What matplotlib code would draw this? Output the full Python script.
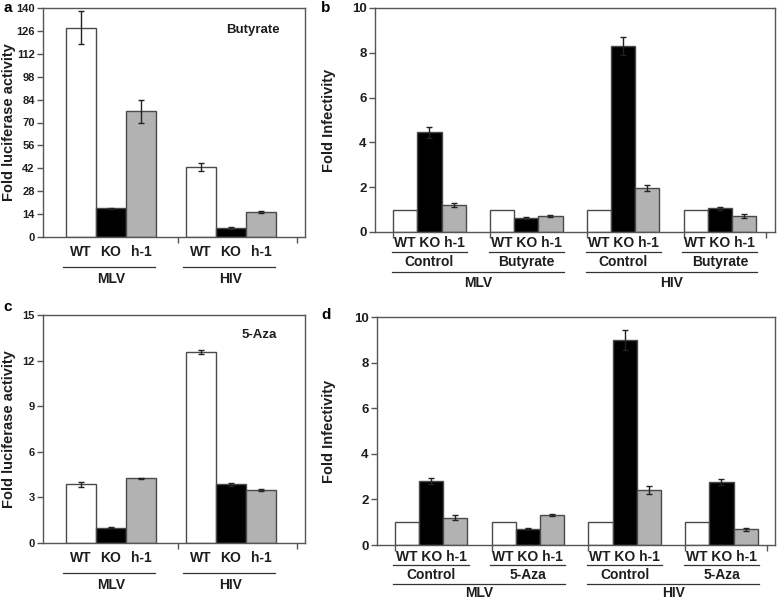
import matplotlib
matplotlib.use("Agg")
import matplotlib.pyplot as plt
import matplotlib.transforms as mtransforms
import numpy as np

plt.rcParams['font.family'] = ['Liberation Sans', 'DejaVu Sans']

# ---------------- data ----------------
strains = ["WT", "KO", "h-1"]
viruses = ["MLV", "HIV"]

# panel a: Butyrate, fold luciferase activity
a_vals = [[128, 17.5, 77], [43, 5.5, 15.5]]
a_err = [[10, 0.4, 7], [2.5, 0.4, 0.6]]
a_ticks = [0, 14, 28, 42, 56, 70, 84, 98, 112, 126, 140]

# panel c: 5-Aza, fold luciferase activity
c_vals = [[3.85, 1.0, 4.25], [12.55, 3.85, 3.5]]
c_err = [[0.15, 0.04, 0.05], [0.12, 0.1, 0.05]]
c_ticks = [0, 3, 6, 9, 12, 15]

# panel b: fold infectivity, groups MLV-Control, MLV-Butyrate, HIV-Control, HIV-Butyrate
b_treat = ["Control", "Butyrate", "Control", "Butyrate"]
b_vals = [[1, 4.45, 1.2], [1, 0.62, 0.72], [1, 8.3, 1.97], [1, 1.05, 0.72]]
b_err = [[0, 0.25, 0.1], [0, 0.03, 0.03], [0, 0.4, 0.15], [0, 0.05, 0.1]]

# panel d
d_treat = ["Control", "5-Aza", "Control", "5-Aza"]
d_vals = [[1, 2.8, 1.2], [1, 0.72, 1.3], [1, 9.0, 2.4], [1, 2.75, 0.68]]
d_err = [[0, 0.12, 0.1], [0, 0.03, 0.04], [0, 0.45, 0.18], [0, 0.13, 0.07]]
inf_ticks = [0, 2, 4, 6, 8, 10]

bar_colors = ["white", "black", "#b2b2b2"]
edge = "#4a4a4a"
txt = "#1e1e1e"

W, H = 777, 601
fig = plt.figure(figsize=(W / 100, H / 100), dpi=100)


def add_axes(l, r, t, b):
    return fig.add_axes([l / W, 1 - b / H, (r - l) / W, (b - t) / H])


def yf(ax_top, ax_bot, ypx):
    return (ax_bot - ypx) / (ax_bot - ax_top)


def style(ax):
    for s in ax.spines.values():
        s.set_color("#555555")
        s.set_linewidth(1.0)
    ax.tick_params(axis='y', direction='out', length=4, width=1, color="#555555",
                   labelcolor=txt, pad=2)
    ax.tick_params(axis='x', direction='out', length=4, width=1, color="#555555",
                   labelbottom=False)


def draw_bars(ax, xs, vals, errs):
    for i in range(3):
        ax.bar(xs[i], vals[i], width=1.0, color=bar_colors[i], edgecolor=edge,
               linewidth=1.0, zorder=2)
        if errs[i] > 0:
            ax.errorbar(xs[i], vals[i], yerr=errs[i], fmt='none', ecolor="#222222",
                        elinewidth=1.0, capsize=2.5, capthick=1.0, zorder=3)


def luc_panel(ax, vals, errs, ticks, treat_label, tl_pos, top, bot):
    style(ax)
    centers = [2, 6]
    for g in range(2):
        xs = [centers[g] - 1, centers[g], centers[g] + 1]
        draw_bars(ax, xs, vals[g], errs[g])
    ax.set_xlim(-0.27, 8.47)
    ax.set_ylim(ticks[0], ticks[-1])
    ax.set_yticks(ticks)
    ax.set_yticklabels([str(t) for t in ticks], fontsize=8, fontweight='bold')
    ax.set_xticks([4.25, 8.2])
    ax.set_ylabel("Fold luciferase activity", fontsize=10.5, fontweight='bold',
                  color=txt)
    ax.yaxis.set_label_coords((16 - 43) / 262, 0.5)
    ax.text(tl_pos[0], tl_pos[1], treat_label, transform=ax.transAxes, ha='center',
            va='center', fontsize=9.5, fontweight='bold', color=txt)
    tr = mtransforms.blended_transform_factory(ax.transData, ax.transAxes)
    for g in range(2):
        for k in range(3):
            ax.text(centers[g] - 1 + k, yf(top, bot, bot + 15), strains[k],
                    transform=tr, ha='center', va='center', fontsize=10,
                    fontweight='bold', color=txt)
        ly = yf(top, bot, bot + 30)
        ax.plot([centers[g] - 1.6, centers[g] + 1.47], [ly, ly], transform=tr,
                color="#333333", lw=0.9, clip_on=False)
        ax.text(centers[g], yf(top, bot, bot + 42), viruses[g], transform=tr,
                ha='center', va='center', fontsize=10, fontweight='bold', color=txt)


def inf_panel(ax, vals, errs, treats, top, bot, xlim, offs, label_x):
    style(ax)
    starts = [0, 4, 8, 12]
    for g in range(4):
        xs = [starts[g], starts[g] + 1, starts[g] + 2]
        draw_bars(ax, xs, vals[g], errs[g])
    ax.set_xlim(*xlim)
    ax.set_ylim(0, 10)
    ax.set_yticks(inf_ticks)
    ax.set_yticklabels([str(t) for t in inf_ticks], fontsize=9.5, fontweight='bold')
    ax.set_xticks([-0.5, 3.5, 7.5, 11.5, 14.9])
    ax.set_ylabel("Fold Infectivity", fontsize=10.5, fontweight='bold', color=txt)
    ax.yaxis.set_label_coords(label_x, 0.5)
    tr = mtransforms.blended_transform_factory(ax.transData, ax.transAxes)
    for g in range(4):
        c = starts[g] + 1
        ax.text(c, yf(top, bot, bot + offs[0]), "WT KO h-1", transform=tr,
                ha='center', va='center', fontsize=10, fontweight='bold', color=txt)
        ly = yf(top, bot, bot + offs[1])
        ax.plot([c - 1.55, c + 1.55], [ly, ly], transform=tr, color="#333333",
                lw=0.9, clip_on=False)
        ax.text(c, yf(top, bot, bot + offs[2]), treats[g], transform=tr,
                ha='center', va='center', fontsize=10, fontweight='bold', color=txt)
    for v in range(2):
        s = starts[2 * v]
        ly = yf(top, bot, bot + offs[3])
        ax.plot([s - 0.55, s + 6.55], [ly, ly], transform=tr, color="#333333",
                lw=0.9, clip_on=False)
        ax.text(s + 3, yf(top, bot, bot + offs[4]), viruses[v], transform=tr,
                ha='center', va='center', fontsize=10, fontweight='bold', color=txt)


# panel a
axa = add_axes(43, 305, 8, 237)
luc_panel(axa, a_vals, a_err, a_ticks, "Butyrate", (0.80, 0.905), 8, 237)

# panel c
axc = add_axes(43, 305, 315, 543)
luc_panel(axc, c_vals, c_err, c_ticks, "5-Aza", (0.825, 0.912), 315, 543)

# panel b
axb = add_axes(375, 775, 8, 232)
inf_panel(axb, b_vals, b_err, b_treat, 8, 232, (-1.25, 15.28),
          (11, 20, 30, 40, 51), (336 - 375) / 400)

# panel d
axd = add_axes(377, 775, 317, 545)
inf_panel(axd, d_vals, d_err, d_treat, 317, 545, (-1.23, 15.21),
          (12, 20, 30, 39, 48), (336 - 377) / 398)

# panel letters
for letter, (px, py) in zip(["a", "b", "c", "d"],
                            [(3, 8), (321, 8), (3, 307), (321, 315)]):
    fig.text(px / W, 1 - py / H, letter, fontsize=11, fontweight='bold',
             color='black', ha='left', va='center')

fig.savefig("out.png", dpi=100, facecolor="white")
